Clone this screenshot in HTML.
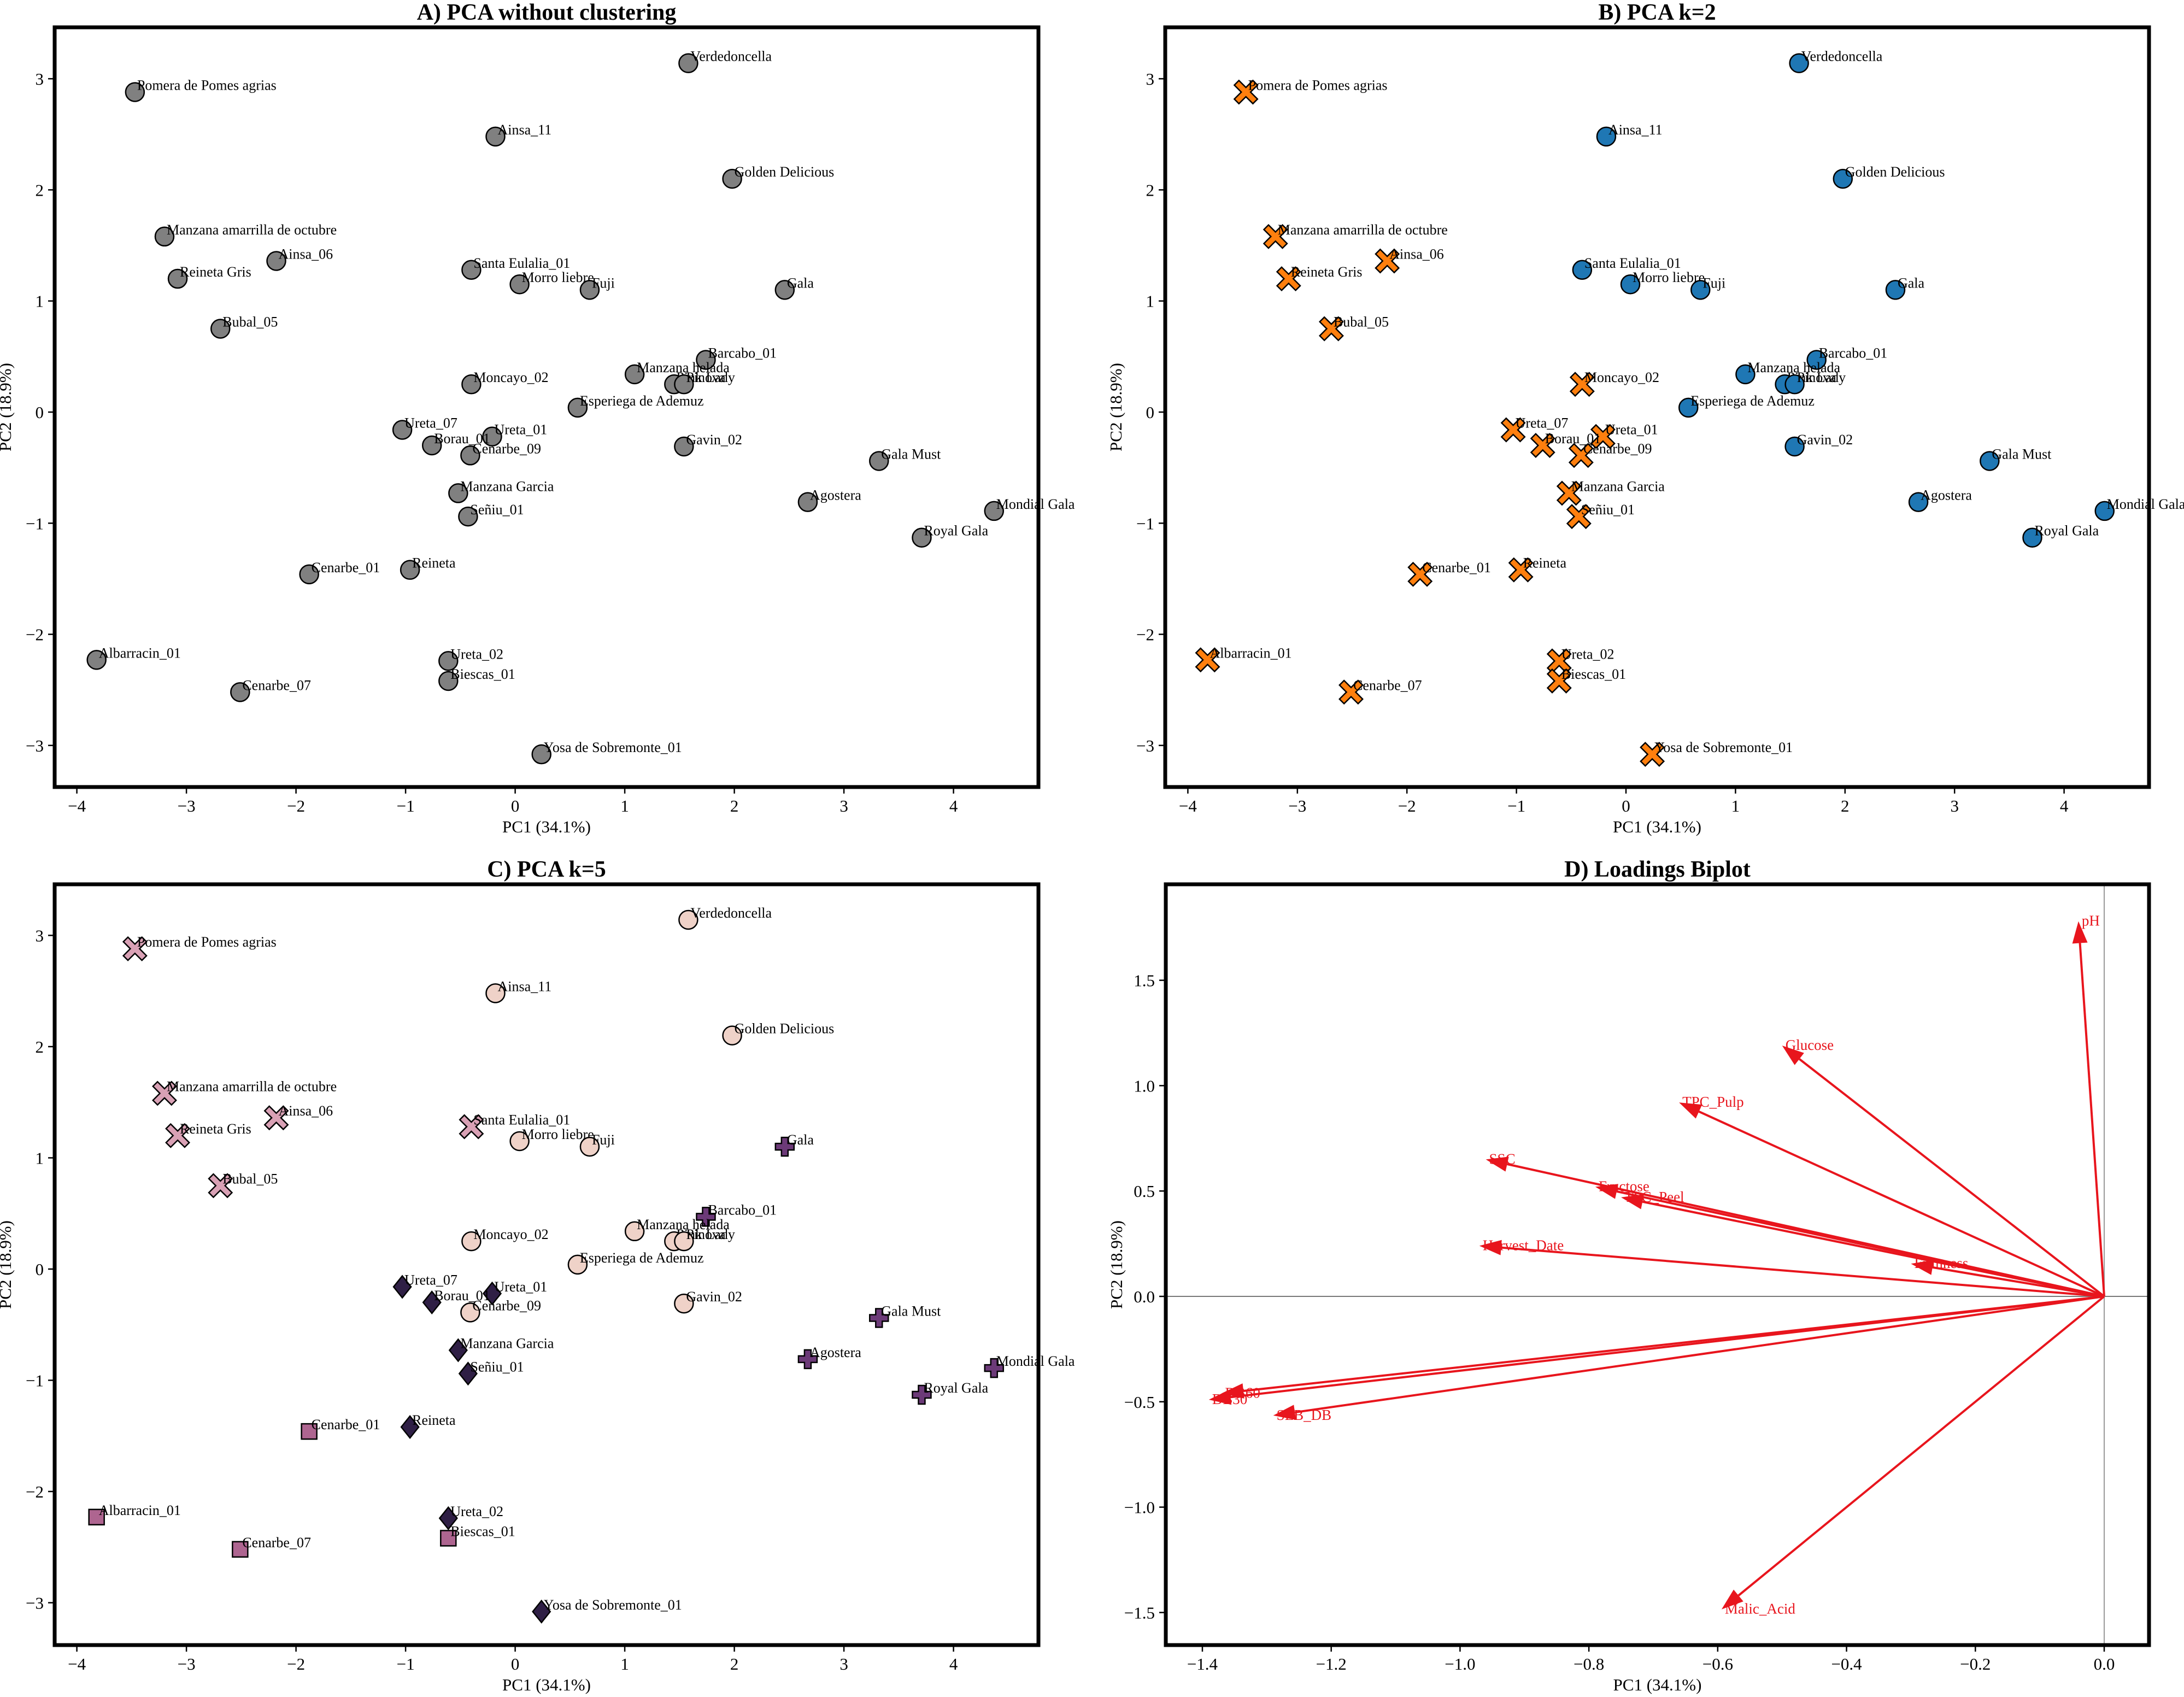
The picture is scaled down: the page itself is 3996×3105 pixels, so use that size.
<!DOCTYPE html>
<html><head><meta charset="utf-8"><style>
html,body{margin:0;padding:0;background:#fff;}
svg text{font-family:"Liberation Serif",serif;}
</style></head><body>
<svg id="fig" xmlns="http://www.w3.org/2000/svg" width="3996" height="3100" viewBox="0 0 3996 3100">
<rect x="0" y="0" width="3996" height="3100" fill="#fff"/>
</svg>
<script>
const names = ["Verdedoncella","Pomera de Pomes agrias","Ainsa_11","Golden Delicious","Manzana amarrilla de octubre","Ainsa_06","Reineta Gris","Santa Eulalia_01","Morro liebre","Fuji","Gala","Bubal_05","Barcabo_01","Manzana helada","Pink Lady","Pinova","Moncayo_02","Esperiega de Ademuz","Ureta_07","Ureta_01","Borau_01","Cenarbe_09","Gavin_02","Gala Must","Manzana Garcia","Agostera","Mondial Gala","Señiu_01","Royal Gala","Cenarbe_01","Reineta","Albarracin_01","Ureta_02","Biescas_01","Cenarbe_07","Yosa de Sobremonte_01"];
const pc1 = [1.58,-3.47,-0.18,1.98,-3.20,-2.18,-3.08,-0.40,0.04,0.68,2.46,-2.69,1.74,1.09,1.45,1.54,-0.40,0.57,-1.03,-0.21,-0.76,-0.41,1.54,3.32,-0.52,2.67,4.37,-0.43,3.71,-1.88,-0.96,-3.82,-0.61,-0.61,-2.51,0.24];
const pc2 = [3.14,2.88,2.48,2.10,1.58,1.36,1.20,1.28,1.15,1.10,1.10,0.75,0.47,0.34,0.25,0.25,0.25,0.04,-0.16,-0.22,-0.30,-0.39,-0.31,-0.44,-0.73,-0.81,-0.89,-0.94,-1.13,-1.46,-1.42,-2.23,-2.24,-2.42,-2.52,-3.08];
const k2 = [0,1,0,0,1,1,1,0,0,0,0,1,0,0,0,0,1,0,1,1,1,1,0,0,1,0,0,1,0,1,1,1,1,1,1,1];
const k5 = [1,0,1,1,0,0,0,0,1,1,3,0,3,1,1,1,1,1,2,2,2,1,1,3,2,3,3,2,3,4,2,4,2,4,4,2];
const loadNames = ["pH","Glucose","TPC_Pulp","SSC","Fructose","TPC_Peel","Harvest_Date","Firmness","DB60","DB30","SEB_DB","Malic_Acid"];
const load1 = [-0.04,-0.50,-0.66,-0.96,-0.79,-0.75,-0.97,-0.30,-1.37,-1.39,-1.29,-0.594];
const load2 = [1.78,1.19,0.92,0.65,0.52,0.47,0.24,0.155,-0.46,-0.49,-0.565,-1.485];
const xTicksPCA = [-4,-3,-2,-1,0,1,2,3,4];
const yTicksPCA = [-3,-2,-1,0,1,2,3];
const xTicksD = [-1.4,-1.2,-1.0,-0.8,-0.6,-0.4,-0.2,0.0];
const yTicksD = [-1.5,-1.0,-0.5,0.0,0.5,1.0,1.5];

const NS="http://www.w3.org/2000/svg";
const svg=document.getElementById('fig');
function mk(tag,attrs,parent){const e=document.createElementNS(NS,tag);for(const k in attrs)e.setAttribute(k,attrs[k]);(parent||svg).appendChild(e);return e;}
function fmt(v,d){const s=Math.abs(v).toFixed(d);return (v<-1e-9?'\u2212':'')+s;}

const panels=[
 {id:'a',title:'A) PCA without clustering',L:100,R:1900,T:50,B:1440,x0:942.6,sx:200.5,y0:754,sy:203.3,xt:xTicksPCA,yt:yTicksPCA,d:0},
 {id:'b',title:'B) PCA k=2',L:2132,R:3932,T:50,B:1440,x0:2975,sx:200.4,y0:754,sy:203.3,xt:xTicksPCA,yt:yTicksPCA,d:0},
 {id:'c',title:'C) PCA k=5',L:100,R:1900,T:1618,B:3010,x0:942.6,sx:200.5,y0:2322,sy:203.5,xt:xTicksPCA,yt:yTicksPCA,d:0},
 {id:'d',title:'D) Loadings Biplot',L:2133,R:3932,T:1618,B:3010,x0:3850,sx:1178.6,y0:2372,sy:385.6,xt:xTicksD,yt:yTicksD,d:1}
];

function axes(p){
  const g=mk('g',{});
  
  
  const t=mk('text',{x:(p.L+p.R)/2,y:p.T-14,'text-anchor':'middle','font-size':42,'font-weight':'bold',fill:'#000'},g);
  t.textContent=p.title;
  
  
  p.xt.forEach(v=>{const x=p.x0+v*p.sx;
    mk('line',{x1:x,x2:x,y1:p.B,y2:p.B+12,stroke:'#000','stroke-width':2.5},g);
    const tx=mk('text',{x:x,y:p.B+45,'text-anchor':'middle','font-size':31,fill:'#000'},g);
    tx.textContent=fmt(v,p.d);
    
    });
  p.yt.forEach(v=>{const y=p.y0-v*p.sy;
    mk('line',{x1:p.L-12,x2:p.L,y1:y,y2:y,stroke:'#000','stroke-width':2.5},g);
    const ty=mk('text',{x:p.L-20,y:y+11,'text-anchor':'end','font-size':31,fill:'#000'},g);
    ty.textContent=fmt(v,p.d);
    
    });
  const xl=mk('text',{x:(p.L+p.R)/2,y:p.B+83,'text-anchor':'middle','font-size':31,fill:'#000'},g);
  xl.textContent='PC1 (34.1%)';
  
  
  const cy=(p.T+p.B)/2, cx=p.L-80;
  const yl=mk('text',{x:cx,y:cy,'text-anchor':'middle','font-size':31,fill:'#000',transform:'rotate(-90 '+cx+' '+cy+')'},g);
  yl.textContent='PC2 (18.9%)';
  
  
  return g;
}
function frame(p){const r=mk('rect',{x:p.L,y:p.T,width:p.R-p.L,height:p.B-p.T,fill:'none',stroke:'#000','stroke-width':7});
  
  }

function marker(g,shape,cx,cy,fill){
  let e;
  if(shape==='o'){e=mk('circle',{cx:cx,cy:cy,r:17,fill:fill,stroke:'#000','stroke-width':2.5},g);}
  else if(shape==='X'){const a=6,b=17;
    const pts=[[0,-a*1.41],[b-a*0.7,-b-a*0.7],[b+a*0.7,-b+a*0.7],[a*1.41,0],[b+a*0.7,b-a*0.7],[b-a*0.7,b+a*0.7],[0,a*1.41],[-b+a*0.7,b+a*0.7],[-b-a*0.7,b-a*0.7],[-a*1.41,0],[-b-a*0.7,-b+a*0.7],[-b+a*0.7,-b-a*0.7]];
    e=mk('polygon',{points:pts.map(q=>(cx+q[0])+','+(cy+q[1])).join(' '),fill:fill,stroke:'#000','stroke-width':2.5},g);}
  else if(shape==='D'){const s=20;
    e=mk('polygon',{points:`${cx},${cy-s} ${cx+s*0.8},${cy} ${cx},${cy+s} ${cx-s*0.8},${cy}`,fill:fill,stroke:'#000','stroke-width':2.5},g);}
  else if(shape==='s'){e=mk('rect',{x:cx-14,y:cy-14,width:28,height:28,fill:fill,stroke:'#000','stroke-width':2.5},g);}
  else if(shape==='P'){const a=6,b=17;
    const pts=[[-a,-b],[a,-b],[a,-a],[b,-a],[b,a],[a,a],[a,b],[-a,b],[-a,a],[-b,a],[-b,-a],[-a,-a]];
    e=mk('polygon',{points:pts.map(q=>(cx+q[0])+','+(cy+q[1])).join(' '),fill:fill,stroke:'#000','stroke-width':2.5},g);}
  return e;
}

const k2Shape=['o','X'], k2Color=['#1f77b4','#ff7f0e'];
const k5Shape=['X','o','D','P','s'], k5Color=['#d9a1b5','#efd2c8','#2f1f45','#6c3a78','#ae6590'];

panels.forEach((p,pi)=>{
  const g=axes(p);
  if(p.id==='d'){
    mk('line',{x1:p.L,x2:p.R,y1:p.y0,y2:p.y0,stroke:'#777','stroke-width':2},g);
    mk('line',{x1:p.x0,x2:p.x0,y1:p.T,y2:p.B,stroke:'#999','stroke-width':2},g);
    loadNames.forEach((n,i)=>{
      const tx=p.x0+load1[i]*p.sx, ty=p.y0-load2[i]*p.sy;
      const dx=tx-p.x0, dy=ty-p.y0, len=Math.hypot(dx,dy), ux=dx/len, uy=dy/len;
      const hl=40, hw=14;
      const bx=tx-ux*hl, by=ty-uy*hl;
      const ln=mk('line',{x1:p.x0,y1:p.y0,x2:bx,y2:by,stroke:'#e8151d','stroke-width':4},g);
      
      
      mk('polygon',{points:`${tx},${ty} ${bx-uy*hw},${by+ux*hw} ${bx+uy*hw},${by-ux*hw}`,fill:'#e8151d'},g);
      const t=mk('text',{x:tx+6,y:ty+8,'font-size':27,fill:'#e8151d'},g);
      t.textContent=n;
      
      
    });
  } else {
    names.forEach((n,i)=>{
      const cx=p.x0+pc1[i]*p.sx, cy=p.y0-pc2[i]*p.sy;
      let shape='o',fill='#808080';
      if(p.id==='b'){shape=k2Shape[k2[i]];fill=k2Color[k2[i]];}
      if(p.id==='c'){shape=k5Shape[k5[i]];fill=k5Color[k5[i]];}
      const m=marker(g,shape,cx,cy,fill);
      
      
      const t=mk('text',{x:cx+4,y:cy-4,'font-size':26,fill:'#000'},g);
      t.textContent=n;
      
      
    });
  }
  frame(p);
});
</script>
</body></html>
